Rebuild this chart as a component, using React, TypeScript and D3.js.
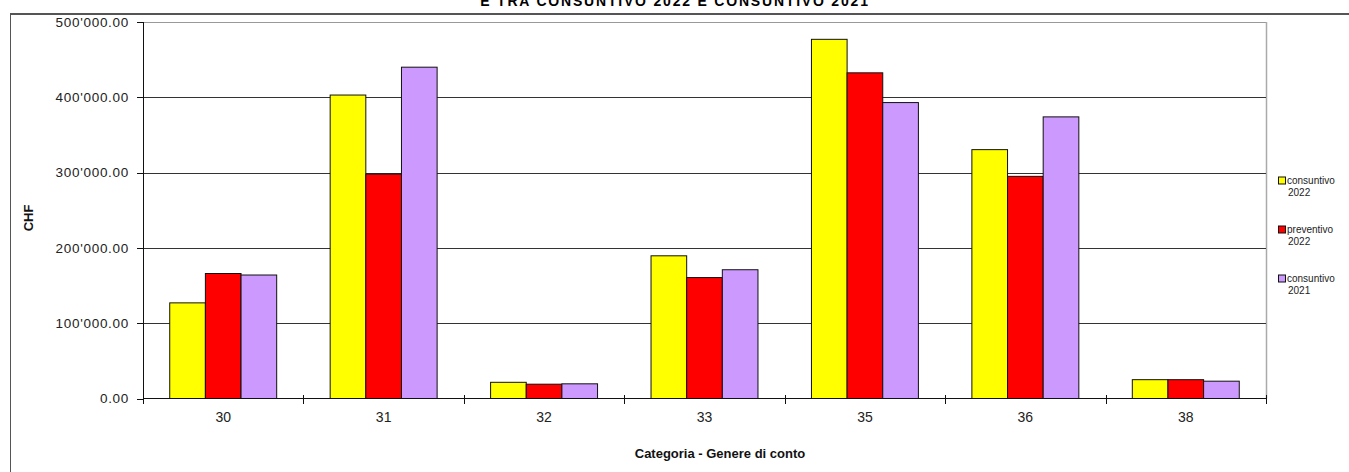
import React from "react";
import * as d3 from "d3";

const categories = ["30", "31", "32", "33", "35", "36", "38"];
const seriesNames = ["consuntivo 2022", "preventivo 2022", "consuntivo 2021"];
const consuntivo2022 = [127000, 403000, 21500, 189500, 477000, 330500, 25000];
const preventivo2022 = [166000, 298000, 19000, 160600, 432500, 295000, 25000];
const consuntivo2021 = [164000, 440000, 19500, 171000, 393000, 374000, 23000];
const yTicks = [0, 100000, 200000, 300000, 400000, 500000];
const colors = ["#FFFF00", "#FF0000", "#CC99FF"];
const legendLines = [["consuntivo", "2022"], ["preventivo", "2022"], ["consuntivo", "2021"]];
const titleText = "E TRA CONSUNTIVO 2022 E CONSUNTIVO 2021";

const W = 1349;
const H = 472;
const left = 143;
const right = 1266;
const top = 22;
const bottom = 398.5;

const fmt = d3.formatLocale({ thousands: "'", decimal: ".", grouping: [3], currency: ["", ""] }).format(",.2f");

export default function App() {
  const series = [consuntivo2022, preventivo2022, consuntivo2021];
  const x0 = d3.scaleBand<string>().domain(categories).range([left, right]).padding(0);
  const bw = x0.bandwidth();
  const x1 = d3.scaleBand<number>().domain([0, 1, 2]).range([bw / 6, (bw * 5) / 6]).padding(0);
  const y = d3.scaleLinear().domain([0, 500000]).range([bottom, top]);
  const font = "Liberation Sans, Arial, sans-serif";

  return (
    <div style={{ position: "absolute", left: 0, top: 0 }}>
      <svg width={W} height={H} style={{ display: "block", fontFamily: font }}>
        <rect x={0} y={0} width={W} height={H} fill="#fff" />
        {/* title, cut off at the top edge as in the source */}
        <text x={675} y={5.5} textAnchor="middle" fontWeight="bold" fontSize={14} letterSpacing={1.8} fill="#000">
          {titleText}
        </text>
        {/* outer frame */}
        <line x1={10} x2={W} y1={14} y2={14} stroke="#555" strokeWidth={2} />
        <line x1={10.5} x2={10.5} y1={13} y2={H} stroke="#555" strokeWidth={1} />

        {/* plot border */}
        <line x1={left} x2={right} y1={top + 0.5} y2={top + 0.5} stroke="#999" strokeWidth={1} />
        <line x1={right + 0.5} x2={right + 0.5} y1={top} y2={bottom} stroke="#aaa" strokeWidth={1.5} />

        {/* gridlines */}
        {yTicks.filter((t) => t > 0 && t < 500000).map((t) => (
          <line key={t} x1={left} x2={right} y1={Math.round(y(t)) + 0.5} y2={Math.round(y(t)) + 0.5} stroke="#333" strokeWidth={1} />
        ))}

        {/* bars */}
        {categories.map((c, i) => (
          <g key={c}>
            {series.map((s, k) => (
              <rect
                key={k}
                x={(x0(c) as number) + (x1(k) as number)}
                y={y(s[i])}
                width={x1.bandwidth()}
                height={bottom - y(s[i])}
                fill={colors[k]}
                stroke="#111"
                strokeWidth={1}
              />
            ))}
          </g>
        ))}

        {/* y axis */}
        <line x1={left + 0.5} x2={left + 0.5} y1={top} y2={bottom} stroke="#111" strokeWidth={1} />
        {yTicks.map((t) => (
          <g key={t}>
            <line x1={137} x2={left} y1={Math.round(y(t)) + 0.5} y2={Math.round(y(t)) + 0.5} stroke="#111" />
            <text x={129} y={y(t)} dy="0.35em" textAnchor="end" fontSize={13.5} letterSpacing={0.7} fill="#222">
              {fmt(t)}
            </text>
          </g>
        ))}

        {/* x axis */}
        <line x1={left} x2={right} y1={bottom} y2={bottom} stroke="#111" strokeWidth={1} />
        {[...categories.map((c) => x0(c) as number), right].map((xx, i) => (
          <line key={i} x1={Math.round(xx) + 0.5} x2={Math.round(xx) + 0.5} y1={395} y2={404} stroke="#111" />
        ))}
        {categories.map((c) => (
          <text key={c} x={(x0(c) as number) + bw / 2} y={422} textAnchor="middle" fontSize={14} fill="#222">
            {c}
          </text>
        ))}

        {/* axis titles */}
        <text x={720} y={458} textAnchor="middle" fontWeight="bold" fontSize={13} fill="#111">
          Categoria - Genere di conto
        </text>
        <text transform={`translate(33,218) rotate(-90)`} textAnchor="middle" fontWeight="bold" fontSize={13} fill="#111">
          CHF
        </text>

        {/* legend */}
        {seriesNames.map((n, k) => {
          const ly = 180.5 + k * 49;
          return (
            <g key={n}>
              <rect x={1278.5} y={ly - 3.5} width={7} height={7} fill={colors[k]} stroke="#111" strokeWidth={1} />
              <text x={1287} y={ly} dy="0.35em" fontSize={10} fill="#222">
                {legendLines[k][0]}
              </text>
              <text x={1288} y={ly + 11.5} dy="0.35em" fontSize={10} fill="#222">
                {legendLines[k][1]}
              </text>
            </g>
          );
        })}
      </svg>
    </div>
  );
}
